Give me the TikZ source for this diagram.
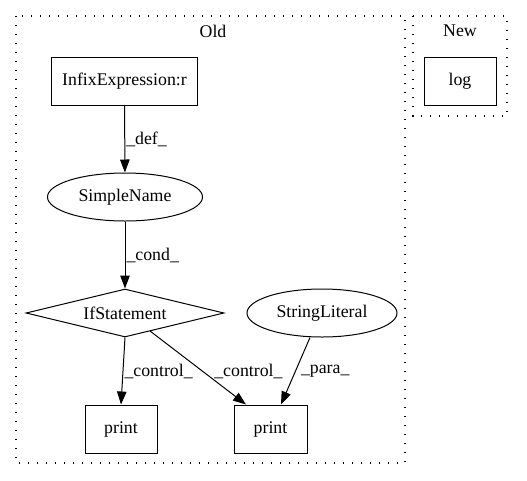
\documentclass[tikz,border=0pt]{standalone}
\usepackage{fontspec}
\setmainfont{Liberation Serif}
\usetikzlibrary{shapes.geometric,arrows.meta}
\begin{document}
\begin{tikzpicture}[x=1pt,y=-1pt,
  every node/.style={font=\fontsize{17.8pt}{20pt}\selectfont, inner sep=0pt},
  cluster/.style={draw, line width=1.3pt, dash pattern=on 1.3pt off 7.7pt},
  boxnode/.style={draw, line width=1pt, rectangle, minimum height=48pt},
  ellnode/.style={draw, line width=1pt, ellipse, minimum height=48pt},
  dianode/.style={draw, line width=1pt, diamond, aspect=4.1, minimum height=48pt, minimum width=198pt},
  edge/.style={draw, line width=1pt, -{Triangle[length=13pt,width=9.5pt]}},
  elabel/.style={anchor=west}
]
\useasboundingbox (0,0) rectangle (527,480);
\draw[cluster] (16,16) rectangle (405,463);
\draw[cluster] (413,16) rectangle (507,116);
\node (oldlbl) at (213,31) {Old};
\node (newlbl) at (460,31) {New};

\node[boxnode, minimum width=146pt] (infix) at (124.5,81) {InfixExpression:r};
\node[boxnode, minimum width=72pt] (log) at (460,81) {log};
\node[ellnode, minimum width=155pt] (simple) at (125,197) {SimpleName};
\node[dianode] (ifst) at (125,313) {IfStatement};
\node[ellnode, minimum width=150pt] (strlit) at (322,313) {StringLiteral};
\node[boxnode, minimum width=72pt] (print1) at (121,429) {print};
\node[boxnode, minimum width=73pt] (print2) at (270.5,429) {print};

\draw[edge] (infix) -- node[elabel, pos=0.5, xshift=1pt] {\_def\_} (simple);
\draw[edge] (simple) -- node[elabel, pos=0.5, xshift=1pt] {\_cond\_} (ifst);
\draw[edge] (ifst.south) -- node[elabel, pos=0.5, xshift=1pt] {\_control\_} (print1.north);
\draw[edge] (150,331) -- node[elabel, pos=0.55, xshift=11pt] {\_control\_} (print2.north -| 246,0);
\draw[edge] (strlit.south -| 310,0) -- node[elabel, pos=0.5, xshift=5pt] {\_para\_} (print2.north -| 281,0);
\end{tikzpicture}
\end{document}
